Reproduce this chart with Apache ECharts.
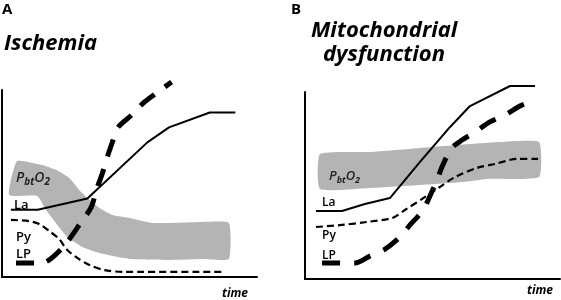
<!DOCTYPE html>
<html><head><meta charset="utf-8">
<script src="https://cdn.jsdelivr.net/npm/echarts@6/dist/echarts.min.js"></script>
<style>html,body{margin:0;padding:0;background:#fff}#c{width:561px;height:300px}</style>
</head><body><div id="c"></div>
<script>
// ---------- Panel A : Ischemia (time 0-100, level 0-100) ----------
const laA_time  = [3.5, 14, 33.5, 57, 65.5, 81.5, 91.5];
const laA_level = [36, 36, 42, 72, 80, 88, 88];
const pyA_time  = [3.5, 10.6, 14.6, 18.5, 22.4, 25.6, 29.5, 34.3, 40.2, 48, 87.4];
const pyA_level = [30.5, 29.9, 28.3, 24.6, 20.3, 14.4, 10.2, 6.4, 3.7, 2.7, 2.7];
const lpA_time  = [5.5, 15.4, 23.6, 31.1, 35, 37, 39.4, 41.3, 43.3, 45.3, 50.8, 55.9, 60.6, 66.5];
const lpA_level = [7.5, 7.5, 15.5, 29.4, 37.4, 46.5, 55.6, 64.2, 72.2, 79.7, 86.6, 93.6, 98.4, 104.3];
const pbtA_top_time  = [5.9, 15.7, 21.3, 26.4, 30.3, 33.5, 38.2, 43.3, 50, 59.1, 66.9, 78.7, 89];
const pbtA_top_level = [62, 59.9, 57.2, 52.9, 46.5, 42.2, 36.9, 33.2, 31.6, 28.9, 28.9, 29.4, 28.9];
const pbtA_bot_time  = [2.8, 13.8, 17.3, 21.7, 25.6, 31.5, 38.2, 50, 65.7, 78.7, 89];
const pbtA_bot_level = [43.9, 43.3, 35.8, 27.8, 21.4, 16, 12.8, 9.6, 9.1, 9.6, 9.6];

// ---------- Panel B : Mitochondrial dysfunction ----------
const laB_time  = [4.3, 14.5, 23.5, 33.3, 45.1, 56.9, 64.7, 80.4, 90.2];
const laB_level = [36.4, 36.4, 40.1, 43.3, 62.6, 81.3, 92.5, 103.2, 103.2];
const pyB_time  = [4.3, 14.5, 24.3, 34.1, 39.2, 47.1, 52.9, 58.8, 67.5, 74.5, 83.1, 91.4];
const pyB_level = [27.8, 28.9, 30.5, 32.6, 36.9, 43.9, 49.2, 54.5, 59.4, 61.5, 64.2, 64.2];
const lpB_time  = [6.7, 19.6, 25.5, 31.4, 37.3, 41.2, 46.3, 49, 51.8, 53.7, 57.6, 61.6, 66.7, 72.5, 78.4, 84.3, 88.2];
const lpB_level = [8.6, 8.6, 12.3, 16, 22.5, 28.9, 36.9, 44.4, 52.9, 59.9, 70.1, 74.3, 78.6, 84, 87.7, 92.5, 94.7];
const pbtB_top_time  = [5.9, 25.5, 45.1, 64.7, 76.5, 91.8];
const pbtB_top_level = [66.8, 67.9, 70.1, 72.2, 73.3, 73.3];
const pbtB_bot_time  = [5.9, 25.5, 45.1, 62, 71.4, 91.8];
const pbtB_bot_level = [48.1, 48.7, 50.3, 51.9, 53.5, 54.5];

const zip = (a, b) => a.map((v, i) => [v, b[i]]);
const FONT = 'Open Sans';

function band(tt, tv, bt, bv) {
  return function (params, api) {
    const pts = [];
    for (let i = 0; i < tt.length; i++) pts.push(api.coord([tt[i], tv[i]]));
    for (let i = bt.length - 1; i >= 0; i--) pts.push(api.coord([bt[i], bv[i]]));
    return { type: 'polygon', shape: { points: pts, smooth: 0.15 }, style: { fill: '#b4b4b4' } };
  };
}

const axisCommon = {
  type: 'value', min: 0, max: 100,
  axisLine: { show: true, onZero: false, lineStyle: { color: '#000', width: 2 } },
  axisTick: { show: false }, axisLabel: { show: false }, splitLine: { show: false }
};

function lineSeries(idx, data, style, smooth) {
  return {
    type: 'line', xAxisIndex: idx, yAxisIndex: idx, data: data, showSymbol: false,
    symbol: 'none', clip: false, smooth: smooth, z: 3, silent: true, animation: false,
    lineStyle: Object.assign({ color: '#000', cap: 'butt', join: 'round' }, style)
  };
}

function txt(x, y, text, size, weight, style) {
  return { type: 'text', x: x, y: y, z: 10, style: {
    text: text, fill: '#000', fontFamily: FONT, fontSize: size,
    fontWeight: weight || 'normal', fontStyle: style || 'normal', verticalAlign: 'middle' } };
}
function pbt(x, y, size) {
  return { type: 'text', x: x, y: y, z: 10, style: {
    text: '{p|P}{s|bt}{p|O}{s|2}', verticalAlign: 'middle', fill: '#222',
    rich: {
      p: { fill: '#222', fontFamily: FONT, fontSize: size, fontStyle: 'italic', fontWeight: 600, lineHeight: 18, verticalAlign: 'middle' },
      s: { fill: '#222', fontFamily: FONT, fontSize: Math.round(size * 0.68), fontStyle: 'italic', fontWeight: 'bold', lineHeight: 9, verticalAlign: 'bottom' }
    } } };
}

const option = {
  animation: false,
  backgroundColor: '#fff',
  grid: [
    { left: 2, top: 90, width: 255, height: 187 },
    { left: 305, top: 92, width: 255, height: 187 }
  ],
  xAxis: [Object.assign({ gridIndex: 0 }, axisCommon), Object.assign({ gridIndex: 1 }, axisCommon)],
  yAxis: [Object.assign({ gridIndex: 0 }, axisCommon), Object.assign({ gridIndex: 1 }, axisCommon)],
  series: [
    { type: 'custom', xAxisIndex: 0, yAxisIndex: 0, data: [[0, 0]], z: 1, silent: true,
      renderItem: band(pbtA_top_time, pbtA_top_level, pbtA_bot_time, pbtA_bot_level) },
    { type: 'custom', xAxisIndex: 1, yAxisIndex: 1, data: [[0, 0]], z: 1, silent: true,
      renderItem: band(pbtB_top_time, pbtB_top_level, pbtB_bot_time, pbtB_bot_level) },
    lineSeries(0, zip(laA_time, laA_level), { width: 2, type: 'solid' }, false),
    lineSeries(0, zip(pyA_time, pyA_level), { width: 2.2, type: [7, 4] }, 0.3),
    lineSeries(0, zip(lpA_time, lpA_level), { width: 5, type: [18, 13] }, 0.3),
    lineSeries(1, zip(laB_time, laB_level), { width: 2, type: 'solid' }, false),
    lineSeries(1, zip(pyB_time, pyB_level), { width: 2.2, type: [7, 4] }, 0.3),
    lineSeries(1, zip(lpB_time, lpB_level), { width: 5, type: [18, 14] }, 0.3)
  ],
  graphic: [
    txt(2, 10, 'A', 15, 'bold'),
    txt(291, 10, 'B', 15, 'bold'),
    txt(4, 44, 'Ischemia', 22, 'bold', 'italic'),
    txt(311, 30.5, 'Mitochondrial', 22, 'bold', 'italic'),
    txt(323, 54.5, 'dysfunction', 22, 'bold', 'italic'),
    pbt(16, 178, 14),
    txt(14, 205, 'La', 13, 600),
    txt(16, 237, 'Py', 13, 600),
    txt(16, 254.5, 'LP', 13, 600),
    txt(222, 294, 'time', 12, 'bold', 'italic'),
    pbt(329, 176, 13),
    txt(322, 202.5, 'La', 12, 600),
    txt(322, 235.5, 'Py', 12, 600),
    txt(322, 256, 'LP', 12, 600),
    txt(527, 291, 'time', 12, 'bold', 'italic')
  ]
};
const chart = echarts.init(document.getElementById('c'), null, { renderer: 'canvas' });
chart.setOption(option);
</script></body></html>
